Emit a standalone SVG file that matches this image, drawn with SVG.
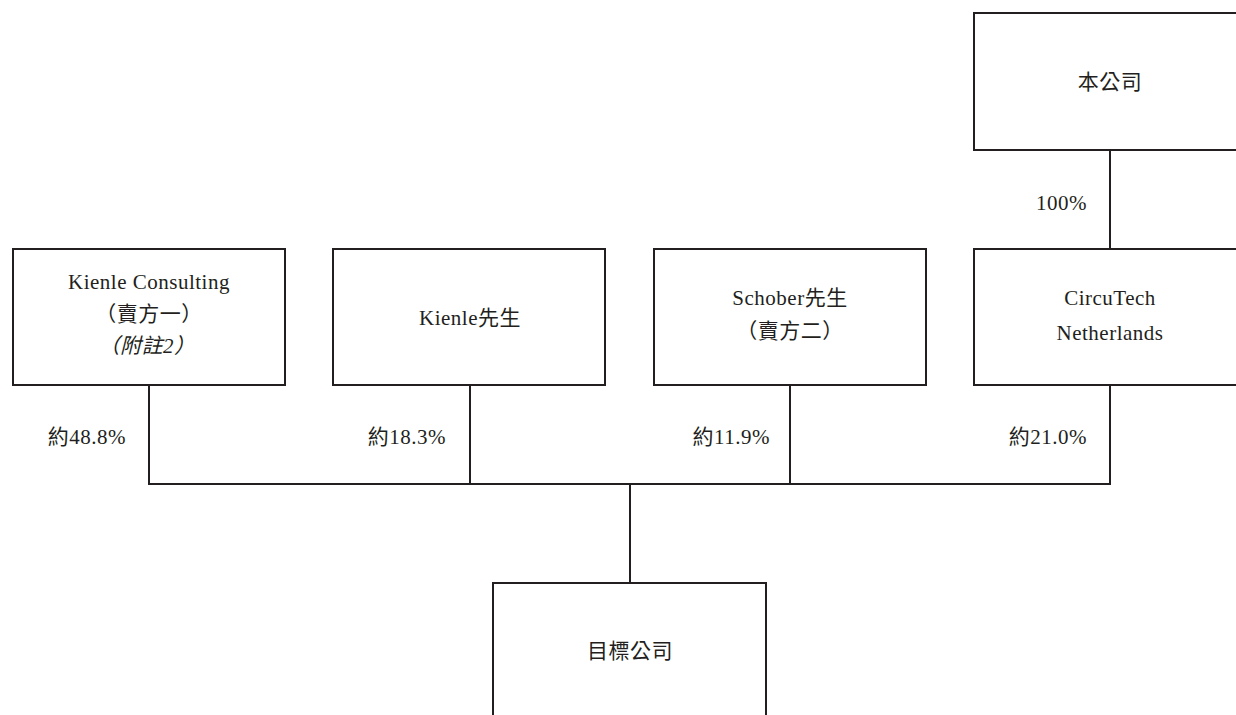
<svg xmlns="http://www.w3.org/2000/svg" width="1236" height="715" viewBox="0 0 1236 715">
<style>
.box{fill:#fff;stroke:#231f20;stroke-width:2}
.ln{stroke:#231f20;stroke-width:2;fill:none}
text{font-family:"Liberation Serif","Noto Sans CJK TC",serif;font-size:21px;letter-spacing:0.5px;fill:#231f20;text-anchor:middle}
.pct{text-anchor:end}
.it{font-style:italic}
</style>
<rect width="1236" height="715" fill="#fff"/>
<g id="connectors">
<line class="ln" x1="1110" y1="150" x2="1110" y2="249"/>
<line class="ln" x1="149" y1="385" x2="149" y2="484"/>
<line class="ln" x1="470" y1="385" x2="470" y2="484"/>
<line class="ln" x1="790" y1="385" x2="790" y2="484"/>
<line class="ln" x1="1110" y1="385" x2="1110" y2="484"/>
<line class="ln" x1="148" y1="484" x2="1111" y2="484"/>
<line class="ln" x1="630" y1="484" x2="630" y2="583"/>
<text class="pct" x="1087" y="210">100%</text>
<text class="pct" x="126" y="444">約48.8%</text>
<text class="pct" x="446" y="444">約18.3%</text>
<text class="pct" x="770" y="444">約11.9%</text>
<text class="pct" x="1087" y="444">約21.0%</text>
</g>
<g id="parent">
<rect class="box" x="974" y="13" width="272" height="137"/>
<text x="1110" y="89">本公司</text>
</g>
<g id="kienle-consulting">
<rect class="box" x="13" y="249" width="272" height="136"/>
<text x="149" y="289">Kienle Consulting</text>
<text x="149" y="321">（賣方一）</text>
<text x="147" y="353" class="it">（附註2）</text>
</g>
<g id="kienle">
<rect class="box" x="333" y="249" width="272" height="136"/>
<text x="470" y="325">Kienle先生</text>
</g>
<g id="schober">
<rect class="box" x="654" y="249" width="272" height="136"/>
<text x="790" y="305">Schober先生</text>
<text x="790" y="338">（賣方二）</text>
</g>
<g id="circutech">
<rect class="box" x="974" y="249" width="272" height="136"/>
<text x="1110" y="305">CircuTech</text>
<text x="1110" y="340">Netherlands</text>
</g>
<g id="target">
<rect class="box" x="493" y="583" width="273" height="150"/>
<text x="630" y="658">目標公司</text>
</g>
</svg>
